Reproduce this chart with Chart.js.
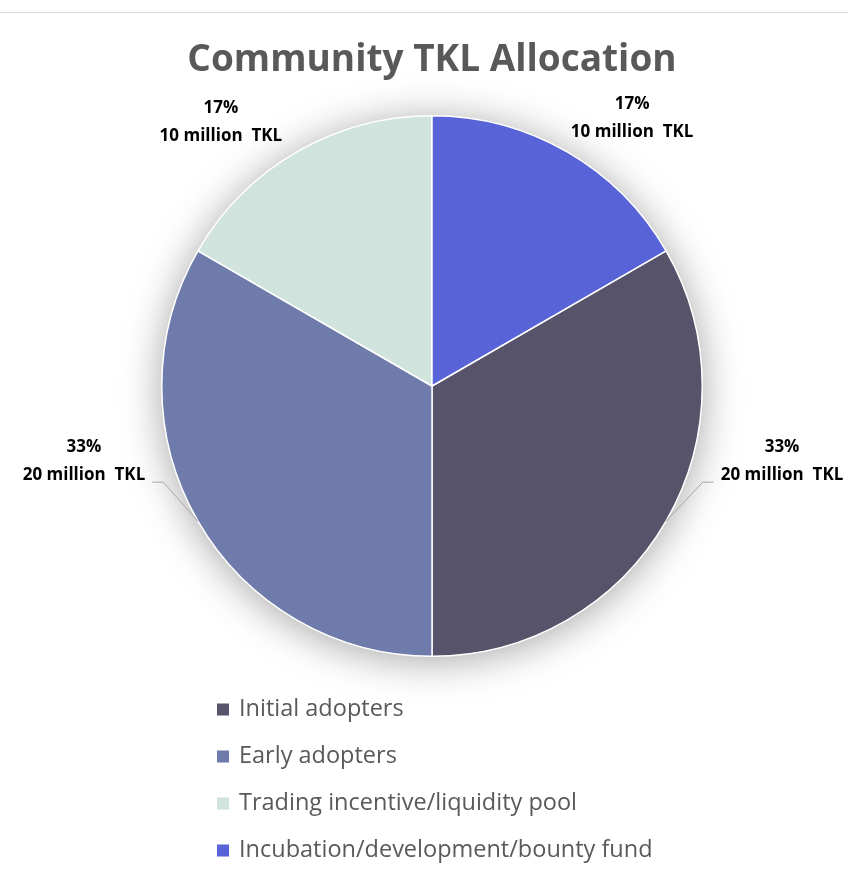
<!DOCTYPE html>
<html>
<head>
<meta charset="utf-8">
<title>Community TKL Allocation</title>
<script src="https://cdn.jsdelivr.net/npm/chart.js@4.4.1/dist/chart.umd.min.js"></script>
<style>
  html, body { margin: 0; padding: 0; background: #fff; }
  #wrap { position: relative; width: 848px; height: 880px; }
  #topline { position: absolute; left: 0; right: 0; top: 12px; height: 1px; background: #d9d9d9; }
  canvas { position: absolute; left: 0; top: 0; }
</style>
</head>
<body>
<div id="wrap">
  <div id="topline"></div>
  <canvas id="allocChart" width="848" height="880"></canvas>
</div>
<script>
// Chart data
const categories = [
    'Initial adopters',
    'Early adopters',
    'Trading incentive/liquidity pool',
    'Incubation/development/bounty fund'
];
const tokensMillions = [20, 20, 10, 10];
const sliceColors = ['#56536a', '#6e7bab', '#d0e3dd', '#5763d6'];

const FONT = "'Open Sans', 'DejaVu Sans', sans-serif";

// soft glow behind the pie
const pieShadow = {
    id: 'pieShadow',
    beforeDatasetsDraw(chart) {
        const arc = chart.getDatasetMeta(0).data[0];
        if (!arc) return;
        const ctx = chart.ctx;
        ctx.save();
        ctx.shadowColor = 'rgba(0, 0, 0, 0.36)';
        ctx.shadowBlur = 40;
        ctx.shadowOffsetY = 4;
        ctx.fillStyle = '#ffffff';
        ctx.beginPath();
        ctx.arc(arc.x, arc.y, arc.outerRadius, 0, Math.PI * 2);
        ctx.fill();
        ctx.restore();
    }
};

// percentage + amount labels, leader lines on the big slices
const sliceLabels = {
    id: 'sliceLabels',
    afterDatasetsDraw(chart, args, opts) {
        const ctx = chart.ctx;
        const meta = chart.getDatasetMeta(0);
        const values = chart.data.datasets[0].data;
        const total = values.reduce((a, b) => a + b, 0);
        ctx.save();
        ctx.font = `bold 17px ${FONT}`;
        ctx.fillStyle = '#000';
        ctx.textAlign = 'center';
        ctx.textBaseline = 'middle';
        meta.data.forEach((arc, i) => {
            const mid = (arc.startAngle + arc.endAngle) / 2;
            const ex = arc.x + Math.cos(mid) * arc.outerRadius;
            const ey = arc.y + Math.sin(mid) * arc.outerRadius;
            const off = opts.offsets[i];
            const lx = ex + off[0];
            const ly = ey + off[1];
            const line1 = Math.round(values[i] / total * 100) + '%';
            const line2 = values[i] + ' million  TKL';
            ctx.fillText(line1, lx, ly - 14);
            ctx.fillText(line2, lx, ly + 14);
            if (opts.leaders[i]) {
                const half = ctx.measureText(line2).width / 2;
                const s = off[0] > 0 ? 1 : -1;
                const hy = ly + 21;
                const endX = lx - s * (half + 7);
                const elbowX = endX - s * 11;
                ctx.strokeStyle = '#a6a6a6';
                ctx.lineWidth = 1;
                ctx.beginPath();
                ctx.moveTo(endX, hy);
                ctx.lineTo(elbowX, hy);
                ctx.lineTo(ex, ey);
                ctx.stroke();
            }
        });
        ctx.restore();
    }
};

// vertical legend under the pie
const stackedLegend = {
    id: 'stackedLegend',
    afterDraw(chart, args, opts) {
        const ctx = chart.ctx;
        const colors = chart.data.datasets[0].backgroundColor;
        ctx.save();
        ctx.font = `23.5px ${FONT}`;
        ctx.textBaseline = 'middle';
        ctx.textAlign = 'left';
        chart.data.labels.forEach((label, i) => {
            const cy = opts.top + i * opts.rowGap;
            ctx.fillStyle = colors[i];
            ctx.fillRect(opts.left, cy - 5.5, 12, 12);
            ctx.fillStyle = '#595959';
            ctx.fillText(label, opts.left + 22, cy);
        });
        ctx.restore();
    }
};

new Chart(document.getElementById('allocChart').getContext('2d'), {
    type: 'pie',
    data: {
        labels: categories,
        datasets: [{
            data: tokensMillions,
            backgroundColor: sliceColors,
            borderColor: '#ffffff',
            borderWidth: 1.5,
            hoverOffset: 0
        }]
    },
    options: {
        responsive: false,
        animation: false,
        rotation: 60,
        layout: {
            padding: { top: 0, bottom: 223, left: 100, right: 84 }
        },
        plugins: {
            legend: { display: false },
            tooltip: { enabled: false },
            title: {
                display: true,
                text: 'Community TKL Allocation',
                color: '#595959',
                font: { family: FONT, size: 37, weight: 'bold' },
                padding: { top: 38, bottom: 32.6 }
            },
            sliceLabels: {
                offsets: [[116, -60], [-114, -60], [-76, -30], [65, -34]],
                leaders: [true, true, false, false]
            },
            stackedLegend: { left: 217, top: 709, rowGap: 47 }
        }
    },
    plugins: [pieShadow, sliceLabels, stackedLegend]
});
</script>
</body>
</html>
